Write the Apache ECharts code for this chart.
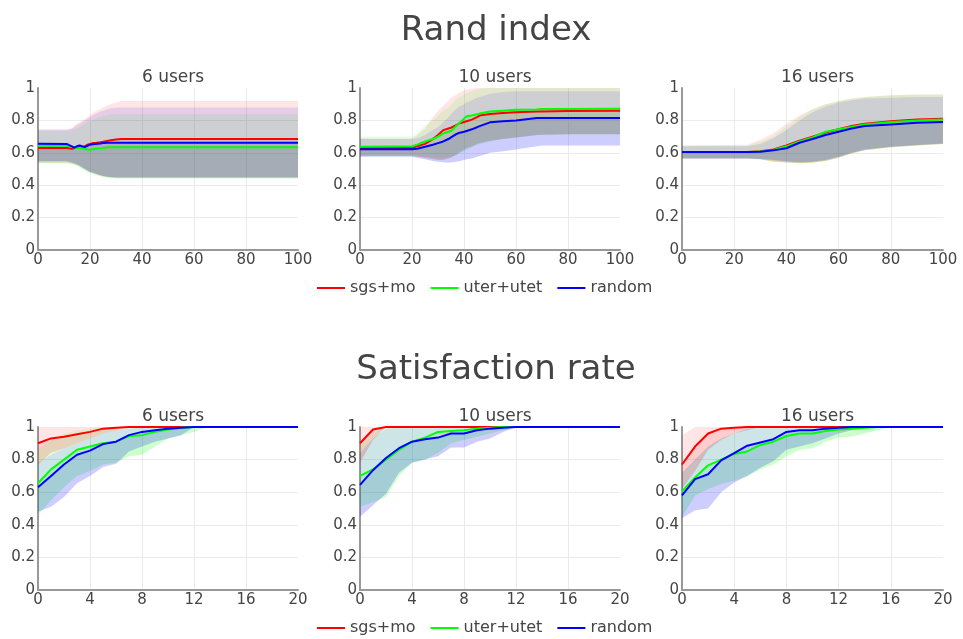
<!DOCTYPE html>
<html>
<head>
<meta charset="utf-8">
<script src="https://cdn.jsdelivr.net/npm/echarts@6/dist/echarts.min.js"></script>
<style>
  html, body { margin: 0; padding: 0; background: #fff; }
  #chart { width: 963px; height: 639px; }
</style>
</head>
<body>
<div id="chart"></div>
<script>
// ---- Rand index, 6 users ----
const rand6X        = [0, 11, 13, 14, 15, 16, 17, 18, 19, 20, 21, 22, 24, 25, 27, 28, 30, 32, 100];
const rand6SgsMean  = [0.63,0.63,0.625,0.63,0.64,0.635,0.63,0.64,0.65,0.655,0.66,0.66,0.665,0.668,0.675,0.678,0.682,0.685,0.685];
const rand6SgsHi    = [0.74,0.74,0.75,0.77,0.78,0.79,0.8,0.81,0.82,0.835,0.845,0.855,0.87,0.88,0.895,0.9,0.91,0.92,0.92];
const rand6SgsLo    = [0.54,0.54,0.535,0.53,0.525,0.52,0.51,0.5,0.49,0.48,0.475,0.47,0.46,0.455,0.45,0.448,0.447,0.447,0.447];
const rand6UterMean = [0.643,0.643,0.637,0.633,0.63,0.63,0.628,0.625,0.62,0.618,0.622,0.625,0.628,0.63,0.635,0.635,0.635,0.635,0.635];
const rand6UterHi   = [0.735,0.735,0.74,0.745,0.75,0.76,0.77,0.78,0.79,0.795,0.8,0.81,0.82,0.825,0.835,0.84,0.84,0.84,0.84];
const rand6UterLo   = [0.535,0.535,0.53,0.525,0.52,0.51,0.5,0.49,0.48,0.475,0.47,0.465,0.455,0.45,0.445,0.443,0.442,0.442,0.442];
const rand6RandMean = [0.656,0.655,0.64,0.632,0.64,0.645,0.64,0.636,0.643,0.65,0.653,0.655,0.658,0.66,0.662,0.662,0.662,0.662,0.662];
const rand6RandHi   = [0.745,0.745,0.75,0.76,0.77,0.78,0.79,0.8,0.81,0.82,0.83,0.84,0.855,0.86,0.87,0.875,0.878,0.88,0.88];
const rand6RandLo   = [0.55,0.55,0.54,0.535,0.53,0.52,0.51,0.5,0.49,0.483,0.478,0.472,0.462,0.457,0.452,0.45,0.448,0.448,0.448];

// ---- Rand index, 10 users ----
const rand10X        = [0, 20, 22, 25, 28, 30, 32, 34, 35, 37, 38, 40, 41, 43, 45, 46, 50, 55, 60, 68, 70, 80, 100];
const rand10SgsMean  = [0.63,0.63,0.64,0.655,0.685,0.71,0.74,0.75,0.755,0.77,0.78,0.79,0.795,0.805,0.82,0.83,0.84,0.845,0.85,0.855,0.855,0.858,0.86];
const rand10SgsHi    = [0.69,0.69,0.71,0.75,0.82,0.86,0.89,0.92,0.94,0.96,0.97,0.985,0.99,0.995,1,1,1,1,1,1,1,1,1];
const rand10SgsLo    = [0.58,0.58,0.575,0.57,0.56,0.555,0.555,0.565,0.57,0.59,0.6,0.62,0.63,0.64,0.655,0.66,0.675,0.685,0.695,0.71,0.712,0.715,0.715];
const rand10UterMean = [0.638,0.64,0.65,0.67,0.685,0.7,0.72,0.73,0.735,0.765,0.78,0.81,0.825,0.83,0.838,0.842,0.855,0.86,0.865,0.868,0.87,0.87,0.872];
const rand10UterHi   = [0.70,0.70,0.72,0.77,0.8,0.83,0.86,0.88,0.9,0.93,0.94,0.96,0.97,0.98,0.99,0.995,1,1,1,1,1,1,1];
const rand10UterLo   = [0.585,0.585,0.58,0.575,0.57,0.565,0.565,0.57,0.575,0.585,0.595,0.61,0.62,0.635,0.65,0.655,0.67,0.685,0.695,0.71,0.712,0.715,0.715];
const rand10RandMean = [0.622,0.622,0.625,0.637,0.65,0.66,0.67,0.685,0.695,0.715,0.722,0.73,0.735,0.745,0.758,0.765,0.788,0.795,0.8,0.815,0.815,0.815,0.815];
const rand10RandHi   = [0.685,0.685,0.69,0.71,0.74,0.76,0.79,0.82,0.84,0.87,0.885,0.9,0.91,0.925,0.94,0.945,0.965,0.975,0.98,0.98,0.98,0.98,0.98];
const rand10RandLo   = [0.575,0.575,0.57,0.56,0.55,0.545,0.542,0.538,0.54,0.545,0.548,0.555,0.56,0.565,0.575,0.58,0.6,0.61,0.62,0.64,0.645,0.645,0.645];

// ---- Rand index, 16 users ----
const rand16X        = [0, 25, 30, 35, 40, 45, 50, 55, 60, 65, 70, 80, 90, 100];
const rand16SgsMean  = [0.605,0.605,0.61,0.62,0.645,0.675,0.7,0.725,0.745,0.765,0.78,0.795,0.805,0.81];
const rand16SgsHi    = [0.645,0.65,0.68,0.72,0.78,0.83,0.87,0.9,0.92,0.935,0.945,0.955,0.96,0.96];
const rand16SgsLo    = [0.565,0.565,0.56,0.545,0.54,0.535,0.54,0.55,0.57,0.595,0.615,0.635,0.645,0.655];
const rand16UterMean = [0.605,0.605,0.608,0.618,0.64,0.67,0.695,0.73,0.745,0.76,0.775,0.79,0.8,0.805];
const rand16UterHi   = [0.645,0.645,0.665,0.7,0.76,0.82,0.865,0.9,0.92,0.935,0.945,0.955,0.96,0.96];
const rand16UterLo   = [0.565,0.565,0.56,0.55,0.54,0.535,0.54,0.55,0.57,0.595,0.615,0.635,0.645,0.655];
const rand16RandMean = [0.605,0.605,0.607,0.615,0.628,0.662,0.685,0.71,0.73,0.75,0.765,0.775,0.785,0.79];
const rand16RandHi   = [0.64,0.64,0.655,0.69,0.74,0.8,0.85,0.885,0.91,0.925,0.935,0.94,0.945,0.945];
const rand16RandLo   = [0.565,0.565,0.562,0.555,0.548,0.542,0.545,0.555,0.575,0.6,0.62,0.637,0.648,0.658];

// ---- Satisfaction rate (steps 0..20) ----
const satX = [0,1,2,3,4,5,6,7,8,9,10,11,12,13,14,15,16,17,18,19,20];

const sat6SgsMean  = [0.9,0.93,0.94,0.955,0.97,0.99,0.995,1,1,1,1,1,1,1,1,1,1,1,1,1,1];
const sat6SgsHi    = [1,1,1,1,1,1,1,1,1,1,1,1,1,1,1,1,1,1,1,1,1];
const sat6SgsLo    = [0.77,0.84,0.87,0.9,0.93,0.96,0.98,1,1,1,1,1,1,1,1,1,1,1,1,1,1];
const sat6UterMean = [0.655,0.74,0.8,0.86,0.88,0.9,0.91,0.945,0.95,0.97,0.985,0.995,1,1,1,1,1,1,1,1,1];
const sat6UterHi   = [0.86,0.92,0.96,0.98,0.99,1,1,1,1,1,1,1,1,1,1,1,1,1,1,1,1];
const sat6UterLo   = [0.46,0.55,0.63,0.7,0.73,0.77,0.78,0.82,0.83,0.88,0.93,0.95,0.97,1,1,1,1,1,1,1,1];
const sat6RandMean = [0.63,0.7,0.77,0.83,0.855,0.895,0.91,0.95,0.97,0.98,0.99,0.995,1,1,1,1,1,1,1,1,1];
const sat6RandHi   = [0.78,0.83,0.87,0.9,0.93,0.96,0.98,0.99,1,1,1,1,1,1,1,1,1,1,1,1,1];
const sat6RandLo   = [0.48,0.51,0.57,0.655,0.7,0.755,0.775,0.85,0.88,0.91,0.93,0.95,1,1,1,1,1,1,1,1,1];

const sat10SgsMean  = [0.9,0.985,1,1,1,1,1,1,1,1,1,1,1,1,1,1,1,1,1,1,1];
const sat10SgsHi    = [1,1,1,1,1,1,1,1,1,1,1,1,1,1,1,1,1,1,1,1,1];
const sat10SgsLo    = [0.78,0.92,1,1,1,1,1,1,1,1,1,1,1,1,1,1,1,1,1,1,1];
const sat10UterMean = [0.7,0.74,0.8,0.86,0.91,0.935,0.97,0.975,0.98,0.99,0.995,1,1,1,1,1,1,1,1,1,1];
const sat10UterHi   = [0.88,0.96,1,1,1,1,1,1,1,1,1,1,1,1,1,1,1,1,1,1,1];
const sat10UterLo   = [0.51,0.54,0.57,0.7,0.78,0.8,0.84,0.9,0.92,0.94,0.96,0.98,1,1,1,1,1,1,1,1,1];
const sat10RandMean = [0.645,0.735,0.81,0.87,0.91,0.925,0.935,0.96,0.96,0.98,0.99,0.995,1,1,1,1,1,1,1,1,1];
const sat10RandHi   = [0.84,0.93,0.99,1,1,1,1,1,1,1,1,1,1,1,1,1,1,1,1,1,1];
const sat10RandLo   = [0.45,0.52,0.59,0.72,0.78,0.8,0.82,0.875,0.875,0.91,0.93,0.97,1,1,1,1,1,1,1,1,1];

const sat16SgsMean  = [0.77,0.88,0.96,0.99,0.995,1,1,1,1,1,1,1,1,1,1,1,1,1,1,1,1];
const sat16SgsHi    = [0.95,1,1,1,1,1,1,1,1,1,1,1,1,1,1,1,1,1,1,1,1];
const sat16SgsLo    = [0.62,0.73,0.86,0.92,0.96,0.98,1,1,1,1,1,1,1,1,1,1,1,1,1,1,1];
const sat16UterMean = [0.605,0.69,0.765,0.8,0.835,0.85,0.89,0.91,0.945,0.96,0.96,0.975,0.985,0.99,0.995,1,1,1,1,1,1];
const sat16UterHi   = [0.72,0.8,0.88,0.93,0.96,0.99,1,1,1,1,1,1,1,1,1,1,1,1,1,1,1];
const sat16UterLo   = [0.45,0.58,0.62,0.65,0.67,0.7,0.74,0.77,0.82,0.86,0.87,0.91,0.935,0.94,0.96,0.98,1,1,1,1,1];
const sat16RandMean = [0.58,0.68,0.71,0.795,0.84,0.885,0.905,0.925,0.97,0.98,0.98,0.99,0.995,1,1,1,1,1,1,1,1];
const sat16RandHi   = [0.72,0.8,0.88,0.93,0.96,0.99,1,1,1,1,1,1,1,1,1,1,1,1,1,1,1];
const sat16RandLo   = [0.44,0.49,0.5,0.6,0.66,0.7,0.75,0.79,0.86,0.88,0.9,0.93,0.96,0.98,1,1,1,1,1,1,1];

// ---- labels ----
const methodNames  = ['sgs+mo', 'uter+utet', 'random'];
const panelTitles  = ['6 users', '10 users', '16 users'];
const rowTitles    = ['Rand index', 'Satisfaction rate'];

// ---- styling ----
const lineColors = ['#ff0000', '#00ff00', '#0000ff'];
const fillColors = ['rgba(255,0,0,0.1)', 'rgba(0,255,0,0.1)', 'rgba(0,0,255,0.1)'];
const FONT = 'DejaVu Sans';
const TXT = '#444';

const panels = [
  { x: rand6X,  xMax: 100, xStep: 20, m: [[rand6SgsMean, rand6SgsLo, rand6SgsHi], [rand6UterMean, rand6UterLo, rand6UterHi], [rand6RandMean, rand6RandLo, rand6RandHi]] },
  { x: rand10X, xMax: 100, xStep: 20, m: [[rand10SgsMean, rand10SgsLo, rand10SgsHi], [rand10UterMean, rand10UterLo, rand10UterHi], [rand10RandMean, rand10RandLo, rand10RandHi]] },
  { x: rand16X, xMax: 100, xStep: 20, m: [[rand16SgsMean, rand16SgsLo, rand16SgsHi], [rand16UterMean, rand16UterLo, rand16UterHi], [rand16RandMean, rand16RandLo, rand16RandHi]] },
  { x: satX, xMax: 20, xStep: 4, m: [[sat6SgsMean, sat6SgsLo, sat6SgsHi], [sat6UterMean, sat6UterLo, sat6UterHi], [sat6RandMean, sat6RandLo, sat6RandHi]] },
  { x: satX, xMax: 20, xStep: 4, m: [[sat10SgsMean, sat10SgsLo, sat10SgsHi], [sat10UterMean, sat10UterLo, sat10UterHi], [sat10RandMean, sat10RandLo, sat10RandHi]] },
  { x: satX, xMax: 20, xStep: 4, m: [[sat16SgsMean, sat16SgsLo, sat16SgsHi], [sat16UterMean, sat16UterLo, sat16UterHi], [sat16RandMean, sat16RandLo, sat16RandHi]] }
];

const colLeft = [38, 360, 682];
const colWidth = [260, 260, 261];
const rowTop = [88, 427];
const rowHeight = [162, 163];

const grids = [], xAxes = [], yAxes = [], series = [];

panels.forEach((p, g) => {
  const row = Math.floor(g / 3), col = g % 3;
  grids.push({ left: colLeft[col], top: rowTop[row], width: colWidth[col], height: rowHeight[row] });
  xAxes.push({
    gridIndex: g, type: 'value', min: 0, max: p.xMax, interval: p.xStep,
    axisLine: { show: true, onZero: false, lineStyle: { color: '#999', width: 2 } },
    axisTick: { show: false },
    axisLabel: { color: TXT, fontFamily: FONT, fontSize: 15, margin: 3 },
    splitLine: { show: true, showMaxLine: false, lineStyle: { color: '#ebebeb', width: 1 } }
  });
  yAxes.push({
    gridIndex: g, type: 'value', min: 0, max: 1, interval: 0.2,
    axisLine: { show: true, onZero: false, lineStyle: { color: '#999', width: 2 } },
    axisTick: { show: false },
    axisLabel: { color: TXT, fontFamily: FONT, fontSize: 15, margin: 3 },
    splitLine: { show: true, showMaxLine: false, lineStyle: { color: '#ebebeb', width: 1 } }
  });

  p.m.forEach((trip, k) => {
    const [mean, lo, hi] = trip;
    const xs = p.x;
    // shaded spread band: whole range plus a second layer below the mean
    series.push({
      type: 'custom', xAxisIndex: g, yAxisIndex: g, silent: true, clip: true,
      encode: { x: 0, y: [1, 2, 3] },
      data: xs.map((x, i) => [x, lo[i], hi[i], mean[i]]),
      renderItem: (params, api) => {
        if (params.dataIndex !== 0) return null;
        const up = xs.map((x, i) => api.coord([x, hi[i]]));
        const md = xs.map((x, i) => api.coord([x, mean[i]]));
        const dn = xs.map((x, i) => api.coord([x, lo[i]])).reverse();
        return {
          type: 'group',
          children: [
            { type: 'polygon', shape: { points: up.concat(dn) }, style: { fill: fillColors[k], stroke: null } },
            { type: 'polygon', shape: { points: md.concat(dn) }, style: { fill: fillColors[k], stroke: null } }
          ]
        };
      },
      z: 2
    });
    series.push({
      type: 'line', name: methodNames[k], xAxisIndex: g, yAxisIndex: g,
      data: xs.map((x, i) => [x, mean[i]]),
      showSymbol: false, symbol: 'none',
      color: lineColors[k],
      lineStyle: { color: lineColors[k], width: 2 },
      z: 2
    });
  });
});

const titles = [
  { text: rowTitles[0], left: 491, top: 9, textAlign: 'center', textStyle: { fontFamily: FONT, fontSize: 34, fontWeight: 'normal', color: TXT } },
  { text: rowTitles[1], left: 491, top: 348, textAlign: 'center', textStyle: { fontFamily: FONT, fontSize: 34, fontWeight: 'normal', color: TXT } }
];
[0, 1].forEach(row => {
  [0, 1, 2].forEach(col => {
    titles.push({
      text: panelTitles[col], left: colLeft[col] + colWidth[col] / 2, top: (row === 0 ? 64 : 403), textAlign: 'center',
      textStyle: { fontFamily: FONT, fontSize: 17, fontWeight: 'normal', color: TXT }
    });
  });
});

const legendBase = {
  data: methodNames, left: 312, icon: 'rect', itemWidth: 28, itemHeight: 2, itemGap: 15,
  textStyle: { fontFamily: FONT, fontSize: 16, color: TXT }
};

const chart = echarts.init(document.getElementById('chart'));
chart.setOption({
  animation: false,
  backgroundColor: '#fff',
  title: titles,
  legend: [Object.assign({ top: 275 }, legendBase), Object.assign({ top: 615 }, legendBase)],
  grid: grids,
  xAxis: xAxes,
  yAxis: yAxes,
  series: series
});
</script>
</body>
</html>
